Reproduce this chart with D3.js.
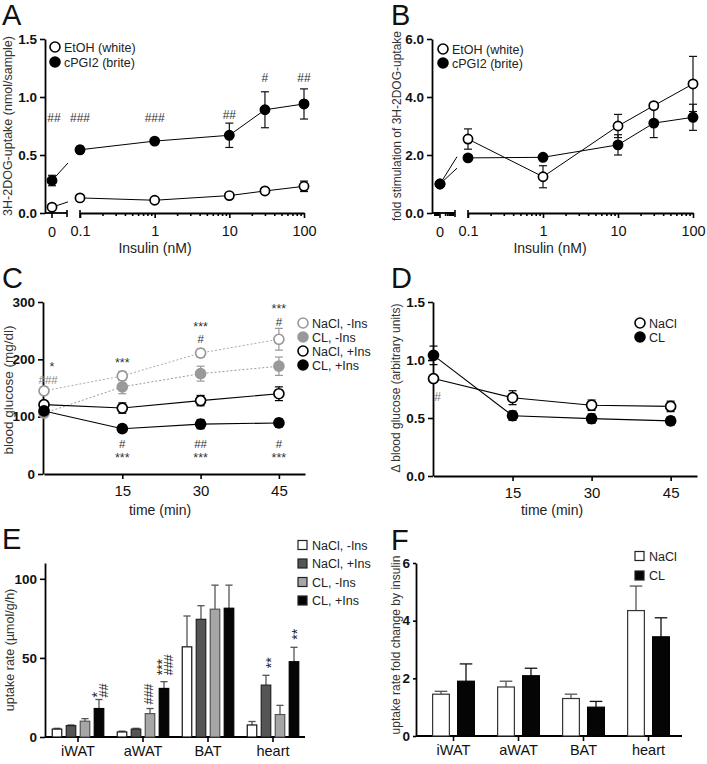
<!DOCTYPE html>
<html><head><meta charset="utf-8">
<script src="https://cdn.jsdelivr.net/npm/d3@7"></script>
<style>body{margin:0;background:#fff} svg text{font-family:"Liberation Sans",Arial,Helvetica,sans-serif}</style>
</head><body><svg id="c" width="707" height="764"></svg>
<script>
// ================= DATA =================
// Panels A & B
const doses = [0, 0.1, 1, 10, 30, 100];
const doseTickValues = [0.1, 1, 10, 100];
const doseTickLabels = ["0.1", "1", "10", "100"];
const minorDoseTicks = [0.2,0.3,0.4,0.5,0.6,0.7,0.8,0.9,2,3,4,5,6,7,8,9,20,30,40,50,60,70,80,90];
const seriesAB = ["EtOH (white)", "cPGI2 (brite)"];

const etohA = [0.05, 0.13, 0.11, 0.15, 0.19, 0.23];
const etohAErr = [0.01, 0.015, 0.01, 0.015, 0.02, 0.045];
const pgiA = [0.28, 0.545, 0.62, 0.67, 0.89, 0.94];
const pgiAErr = [0.045, 0.03, 0.01, 0.105, 0.155, 0.13];
const sigA = ["##", "###", "###", "##", "#", "##"];
const sigAY = [0.82, 0.82, 0.82, 0.845, 1.17, 1.17];
const yTicksA = [0, 0.5, 1.0, 1.5];

const etohB = [1.0, 2.55, 1.25, 3.0, 3.7, 4.45];
const etohBErr = [0.05, 0.35, 0.38, 0.4, 0.1, 0.95];
const pgiB = [1.0, 1.9, 1.92, 2.35, 3.1, 3.3];
const pgiBErr = [0.05, 0.05, 0.05, 0.35, 0.5, 0.45];
const yTicksB = [0, 2, 4, 6];

// Panel C
const timeC = [0, 15, 30, 45];
const seriesC = ["NaCl, -Ins", "CL, -Ins", "NaCl, +Ins", "CL, +Ins"];
const naclNoInsC = [145, 171, 211, 235];
const naclNoInsCErr = [6, 8, 7, 19];
const clNoInsC = [106, 152, 175, 188];
const clNoInsCErr = [6, 12, 13, 16];
const naclInsC = [121, 115, 128, 140];
const naclInsCErr = [5, 9, 9, 12];
const clInsC = [110, 79, 87, 89];
const clInsCErr = [5, 6, 8, 7];
const yTicksC = [0, 100, 200, 300];
const sigCTime = [1.5, 0.8, 15, 30, 30, 45, 45, 15, 15, 30, 30, 45, 45];
const sigCText = ["*", "###", "***", "***", "#", "***", "#", "#", "***", "##", "***", "#", "***"];
const sigCVal = [192, 164, 199, 262, 235, 293, 265, 53, 33, 53, 33, 53, 33];
const sigCGray = [false, true, false, false, false, false, false, false, false, false, false, false, false];

// Panel D
const timeD = [0, 15, 30, 45];
const seriesD = ["NaCl", "CL"];
const naclD = [0.84, 0.675, 0.61, 0.60];
const naclDErr = [0.02, 0.06, 0.045, 0.045];
const clD = [1.04, 0.52, 0.495, 0.475];
const clDErr = [0.08, 0.04, 0.04, 0.035];
const yTicksD = [0, 0.5, 1.0, 1.5];
const sigDTime = [0.8];
const sigDText = ["#"];
const sigDVal = [0.68];

// Panel E
const tissues = ["iWAT", "aWAT", "BAT", "heart"];
const seriesE = ["NaCl, -Ins", "NaCl, +Ins", "CL, -Ins", "CL, +Ins"];
const naclNoInsE = [5, 3.2, 57, 7.6];
const naclNoInsEErr = [0.5, 0.5, 19.5, 2.2];
const naclInsE = [7.2, 5, 74.4, 32.8];
const naclInsEErr = [0.4, 0.5, 8.6, 6.2];
const clNoInsE = [10, 14.8, 80.8, 14.2];
const clNoInsEErr = [1.6, 3.2, 15.2, 5.8];
const clInsE = [18, 30.7, 81.4, 47.6];
const clInsEErr = [5.7, 4.3, 14.6, 9.1];
const yTicksE = [0, 50, 100];
const sigETissue = ["iWAT", "iWAT", "aWAT", "aWAT", "aWAT", "heart", "heart"];
const sigESeries = [3, 3, 2, 3, 3, 1, 3];
const sigEText = ["*", "##", "###", "***", "###", "**", "**"];
const sigEVal = [25, 25, 20.5, 39, 39, 43.5, 61.5];

// Panel F
const seriesF = ["NaCl", "CL"];
const naclF = [1.45, 1.7, 1.3, 4.35];
const naclFErr = [0.1, 0.2, 0.15, 0.85];
const clF = [1.9, 2.09, 1.0, 3.44];
const clFErr = [0.6, 0.26, 0.2, 0.66];
const yTicksF = [0, 2, 4, 6];

// ================= DRAWING =================
const FONT = '"Liberation Sans", Arial, Helvetica, sans-serif';
const svg = d3.select('#c');
svg.append('rect').attr('width', 707).attr('height', 764).attr('fill', '#fff');

function letter(t, x, y) {
  svg.append('text').attr('x', x).attr('y', y).attr('font-size', 29).attr('fill', '#111').text(t);
}
function yTitle(t, x, y, fs) {
  svg.append('text').attr('transform', `translate(${x},${y}) rotate(-90)`)
    .attr('text-anchor', 'middle').attr('font-size', fs).attr('fill', '#333').text(t);
}
function xTitle(t, x, y) {
  svg.append('text').attr('x', x).attr('y', y).attr('text-anchor', 'middle')
    .attr('font-size', 14).attr('fill', '#222').text(t);
}
function styleAxis(a) {
  a.select('.domain').attr('stroke', '#000').attr('stroke-width', 1.8);
  a.selectAll('.tick line').attr('stroke', '#000').attr('stroke-width', 1.6);
  a.selectAll('.tick text').attr('font-family', FONT).attr('fill', '#111');
}
function yAxis(g, scale, ticks, fmt, x, size = 5) {
  const a = g.append('g').attr('transform', `translate(${x},0)`)
    .call(d3.axisLeft(scale).tickValues(ticks).tickFormat(fmt).tickSize(size).tickSizeOuter(0).tickPadding(3));
  styleAxis(a);
  a.selectAll('.tick text').attr('font-size', 13.5).attr('font-weight', 'bold');
  return a;
}
function errBar(g, cx, yLo, yHi, w, color, sw, lower = true) {
  g.append('line').attr('x1', cx).attr('x2', cx).attr('y1', yLo).attr('y2', yHi)
    .attr('stroke', color).attr('stroke-width', sw);
  g.append('line').attr('x1', cx - w / 2).attr('x2', cx + w / 2).attr('y1', yHi).attr('y2', yHi)
    .attr('stroke', color).attr('stroke-width', sw);
  if (lower) g.append('line').attr('x1', cx - w / 2).attr('x2', cx + w / 2).attr('y1', yLo).attr('y2', yLo)
    .attr('stroke', color).attr('stroke-width', sw);
}
function sigText(g, t, x, y, color, fs) {
  const off = t.includes('*') ? 0.55 : 0.36;
  g.append('text').attr('x', x).attr('y', y + off * fs).attr('text-anchor', 'middle')
    .attr('font-size', fs).attr('fill', color).text(t);
}
function circleLegend(g, items, x, y0, dy, fs) {
  items.forEach((it, i) => {
    g.append('circle').attr('cx', x).attr('cy', y0 + i * dy).attr('r', 5)
      .attr('fill', it.fill).attr('stroke', it.stroke).attr('stroke-width', 1.6);
    g.append('text').attr('x', x + 9).attr('y', y0 + i * dy + fs * 0.36).attr('font-size', fs)
      .attr('fill', '#222').text(it.name);
  });
}
function squareLegend(g, items, x, y0, dy, fs) {
  items.forEach((it, i) => {
    g.append('rect').attr('x', x).attr('y', y0 + i * dy - 4.5).attr('width', 9).attr('height', 9)
      .attr('fill', it.fill).attr('stroke', '#222').attr('stroke-width', 1.2);
    g.append('text').attr('x', x + 14).attr('y', y0 + i * dy + fs * 0.36).attr('font-size', fs)
      .attr('fill', '#222').text(it.name);
  });
}

// ---------- Panels A & B (dose response with broken axis) ----------
function dosePanel(cfg) {
  const { y, xl, zeroX, axisX, segEnd, lineEnd, dense } = cfg;
  const X = d => d === 0 ? zeroX : xl(d);
  const g = svg.append('g');
  const y0 = y(0);
  yAxis(g, y, cfg.yTicks, cfg.yFmt, axisX);
  g.append('line').attr('x1', axisX).attr('x2', segEnd).attr('y1', y0).attr('y2', y0)
    .attr('stroke', '#000').attr('stroke-width', 1.8);
  g.append('line').attr('x1', zeroX).attr('x2', zeroX).attr('y1', y0).attr('y2', y0 + 5)
    .attr('stroke', '#000').attr('stroke-width', 1.6);
  g.append('line').attr('x1', segEnd).attr('x2', segEnd).attr('y1', y0 - 3).attr('y2', y0 + 4)
    .attr('stroke', '#000').attr('stroke-width', 1.6);
  if (dense) {
    const zl = d3.scaleLog().domain([1, 10]).range([zeroX + 2, segEnd - 1]);
    const zl2 = d3.scaleLog().domain([1, 10]).range([axisX + 1, zeroX - 1]);
    [2, 3, 4, 5, 6, 7, 8, 9].forEach(v => {
      [zl(v), zl2(v)].forEach(px => g.append('line').attr('x1', px).attr('x2', px)
        .attr('y1', y0 - 1).attr('y2', y0 + 3).attr('stroke', '#000').attr('stroke-width', 1.6));
    });
  }
  g.append('text').attr('x', zeroX).attr('y', y0 + 24).attr('text-anchor', 'middle')
    .attr('font-size', 14.5).attr('fill', '#111').text('0');
  const ax = g.append('g').attr('transform', `translate(0,${y0})`)
    .call(d3.axisBottom(xl).tickValues(doseTickValues).tickFormat((d, i) => doseTickLabels[i])
      .tickSize(5).tickSizeOuter(0).tickPadding(8));
  styleAxis(ax);
  ax.selectAll('.tick text').attr('font-size', 14.5);
  const mx = g.append('g').attr('transform', `translate(0,${y0})`)
    .call(d3.axisBottom(xl).tickValues(minorDoseTicks).tickFormat('').tickSize(3).tickSizeOuter(0));
  styleAxis(mx);
  mx.select('.domain').remove();
  g.append('line').attr('x1', xl(0.1)).attr('x2', xl(0.1)).attr('y1', y0 - 3).attr('y2', y0 + 5)
    .attr('stroke', '#000').attr('stroke-width', 1.6);

  const lines = g.append('g'), bars = g.append('g'), marks = g.append('g');
  cfg.series.forEach(s => {
    const xa = X(0), ya = y(s.vals[0]), xb = X(doses[1]), yb = y(s.vals[1]);
    const t = (lineEnd - xa) / (xb - xa);
    lines.append('line').attr('x1', xa).attr('y1', ya).attr('x2', lineEnd).attr('y2', ya + t * (yb - ya))
      .attr('stroke', '#000').attr('stroke-width', 1);
    lines.append('path').datum(doses.slice(1).map((d, i) => [X(d), y(s.vals[i + 1])]))
      .attr('d', d3.line()).attr('fill', 'none').attr('stroke', '#000').attr('stroke-width', 1);
    doses.forEach((d, i) => {
      errBar(bars, X(d), y(s.vals[i] - s.errs[i]), y(s.vals[i] + s.errs[i]), 8, '#111', 1.2);
      marks.append('circle').attr('cx', X(d)).attr('cy', y(s.vals[i])).attr('r', 4.6)
        .attr('fill', s.fill).attr('stroke', '#000').attr('stroke-width', 1.7);
    });
  });
  return { g, X };
}

// Panel A
const yA = d3.scaleLinear().domain([0, 1.5]).range([213, 39]);
const xlA = d3.scaleLog().domain([0.1, 100]).range([80, 304]);
const pA = dosePanel({
  y: yA, xl: xlA, zeroX: 52, axisX: 45, segEnd: 67, lineEnd: 68,
  yTicks: yTicksA, yFmt: d3.format('.1f'),
  series: [{ vals: etohA, errs: etohAErr, fill: '#fff' }, { vals: pgiA, errs: pgiAErr, fill: '#000' }]
});
doses.forEach((d, i) => sigText(pA.g, sigA[i], pA.X(d) + (i === 0 ? 2 : 0), yA(sigAY[i]), '#333', 12));
circleLegend(pA.g, [{ name: seriesAB[0], fill: '#fff', stroke: '#000' }, { name: seriesAB[1], fill: '#000', stroke: '#000' }], 55, 47, 15, 12.5);
letter('A', 2, 25);
yTitle('3H-2DOG-uptake (nmol/sample)', 12, 126, 12.5);
xTitle('Insulin (nM)', 155, 253);

// Panel B
const yB = d3.scaleLinear().domain([0, 6]).range([213, 39]);
const xlB = d3.scaleLog().domain([0.1, 100]).range([468, 693]);
const pB = dosePanel({
  y: yB, xl: xlB, zeroX: 440, axisX: 432, segEnd: 455, lineEnd: 457, dense: true,
  yTicks: yTicksB, yFmt: d3.format('.1f'),
  series: [{ vals: etohB, errs: etohBErr, fill: '#fff' }, { vals: pgiB, errs: pgiBErr, fill: '#000' }]
});
circleLegend(pB.g, [{ name: seriesAB[0], fill: '#fff', stroke: '#000' }, { name: seriesAB[1], fill: '#000', stroke: '#000' }], 443, 49, 14, 12.5);
letter('B', 391, 25);
yTitle('fold stimulation of 3H-2DOG-uptake', 401, 126, 12);
xTitle('Insulin (nM)', 550, 253);

// ---------- Time panels C & D ----------
function timePanel(cfg) {
  const { x, y, axisX } = cfg;
  const g = svg.append('g');
  yAxis(g, y, cfg.yTicks, cfg.yFmt, axisX);
  const ax = g.append('g').attr('transform', `translate(0,${y(0)})`)
    .call(d3.axisBottom(x).tickValues([15, 30, 45]).tickSize(5).tickSizeOuter(0).tickPadding(6));
  styleAxis(ax);
  ax.selectAll('.tick text').attr('font-size', 15);
  const lines = g.append('g'), bars = g.append('g'), marks = g.append('g');
  cfg.series.forEach(s => {
    lines.append('path').datum(cfg.times.map((t, i) => [x(t), y(s.vals[i])]))
      .attr('d', d3.line()).attr('fill', 'none').attr('stroke', s.line)
      .attr('stroke-width', s.dash ? 1 : 1.1).attr('stroke-dasharray', s.dash || null);
    cfg.times.forEach((t, i) => {
      errBar(bars, x(t), y(s.vals[i] - s.errs[i]), y(s.vals[i] + s.errs[i]), 8, s.stroke, 1.2);
      marks.append('circle').attr('cx', x(t)).attr('cy', y(s.vals[i])).attr('r', 5)
        .attr('fill', s.fill).attr('stroke', s.stroke).attr('stroke-width', 1.7);
    });
  });
  return g;
}

// Panel C
const xC = d3.scaleLinear().domain([0, 50]).range([44, 305]);
const yC = d3.scaleLinear().domain([0, 300]).range([474, 302]);
const cStyles = [
  { line: '#aaa', dash: '2,2', fill: '#fff', stroke: '#999' },
  { line: '#999', dash: '2,2', fill: '#999', stroke: '#999' },
  { line: '#000', dash: null, fill: '#fff', stroke: '#000' },
  { line: '#000', dash: null, fill: '#000', stroke: '#000' }
];
const cVals = [naclNoInsC, clNoInsC, naclInsC, clInsC];
const cErrs = [naclNoInsCErr, clNoInsCErr, naclInsCErr, clInsCErr];
const gC = timePanel({
  x: xC, y: yC, axisX: 43, times: timeC, yTicks: yTicksC, yFmt: d3.format('d'),
  series: cVals.map((v, i) => Object.assign({ vals: v, errs: cErrs[i] }, cStyles[i]))
});
sigCText.forEach((t, i) => sigText(gC, t, xC(sigCTime[i]), yC(sigCVal[i]), sigCGray[i] ? '#888' : '#333', t.includes('*') ? 12.5 : 11.5));
circleLegend(gC, seriesC.map((n, i) => ({ name: n, fill: cStyles[i].fill, stroke: cStyles[i].stroke })), 303, 323, 14, 12.5);
letter('C', 2, 288);
yTitle('blood glucose (mg/dl)', 13, 390, 13.5);
xTitle('time (min)', 160, 515);

// Panel D
const xD = d3.scaleLinear().domain([0, 50]).range([433.5, 697]);
const yD = d3.scaleLinear().domain([0, 1.5]).range([476, 302]);
const dStyles = [
  { line: '#000', dash: null, fill: '#fff', stroke: '#000' },
  { line: '#000', dash: null, fill: '#000', stroke: '#000' }
];
const gD = timePanel({
  x: xD, y: yD, axisX: 433, times: timeD, yTicks: yTicksD, yFmt: d3.format('.1f'),
  series: [{ vals: naclD, errs: naclDErr }, { vals: clD, errs: clDErr }].map((s, i) => Object.assign(s, dStyles[i]))
});
sigDText.forEach((t, i) => sigText(gD, t, xD(sigDTime[i]), yD(sigDVal[i]), '#777', 12));
circleLegend(gD, seriesD.map((n, i) => ({ name: n, fill: dStyles[i].fill, stroke: '#000' })), 640, 323, 14, 12.5);
letter('D', 391, 288);
yTitle('\u0394 blood glucose (arbitrary units)', 400, 388, 12);
xTitle('time (min)', 552, 515);

// ---------- Bar panels E & F ----------
function barPanel(cfg) {
  const { x, y, axisX, axisEnd, groups, innerRange, pad } = cfg;
  const g = svg.append('g');
  yAxis(g, y, cfg.yTicks, d3.format('d'), axisX, cfg.ytick || 5);
  const ax = g.append('g').attr('transform', `translate(0,${y(0)})`)
    .call(d3.axisBottom(x).tickSize(5).tickSizeOuter(0).tickPadding(4));
  styleAxis(ax);
  ax.select('.domain').remove();
  ax.selectAll('.tick text').attr('font-size', 14.5);
  g.append('line').attr('x1', axisX).attr('x2', axisEnd).attr('y1', y(0)).attr('y2', y(0))
    .attr('stroke', '#000').attr('stroke-width', 1.8);
  const inner = d3.scaleBand().domain(d3.range(groups.length)).range(innerRange)
    .paddingInner(pad).paddingOuter(pad / 2);
  const bars = g.append('g'), errs = g.append('g');
  groups.forEach((s, si) => {
    x.domain().forEach((c, ci) => {
      const bx = x(c) + inner(si);
      errBar(errs, bx + inner.bandwidth() / 2, y(s.vals[ci]), y(s.vals[ci] + s.errs[ci]), inner.bandwidth() * 0.75, s.err, 1.3, false);
      bars.append('rect').attr('x', bx).attr('y', y(s.vals[ci])).attr('width', inner.bandwidth())
        .attr('height', y(0) - y(s.vals[ci])).attr('fill', s.fill).attr('stroke', s.stroke).attr('stroke-width', 1.2);
    });
  });
  g.node().appendChild(bars.node());
  g.node().appendChild(ax.node());
  return { g, inner };
}

// Panel E
const xE = d3.scaleBand().domain(tissues).range([45.5, 305.5]);
const yE = d3.scaleLinear().domain([0, 110]).range([737, 563]);
const eStyles = [
  { fill: '#fff', stroke: '#111', err: '#555' },
  { fill: '#555', stroke: '#222', err: '#555' },
  { fill: '#a6a6a6', stroke: '#555', err: '#555' },
  { fill: '#050505', stroke: '#000', err: '#555' }
];
const eVals = [naclNoInsE, naclInsE, clNoInsE, clInsE];
const eErrs = [naclNoInsEErr, naclInsEErr, clNoInsEErr, clInsEErr];
const pE = barPanel({
  x: xE, y: yE, axisX: 45, axisEnd: 305, yTicks: yTicksE, innerRange: [4.5, 60.5], pad: 0.32,
  groups: eVals.map((v, i) => Object.assign({ vals: v, errs: eErrs[i] }, eStyles[i]))
});
const eSigShift = [-5, 4, -2, -5, 4, 2, 0];
sigEText.forEach((t, i) => {
  const cx = xE(sigETissue[i]) + pE.inner(sigESeries[i]) + pE.inner.bandwidth() / 2 + eSigShift[i];
  const fs = t.includes('*') ? 14 : 12.5;
  const bx = cx + (t.includes('*') ? 0.55 : 0.36) * fs;
  pE.g.append('text').attr('transform', `translate(${bx},${yE(sigEVal[i])}) rotate(-90)`)
    .attr('font-size', fs).attr('fill', '#222').text(t);
});
squareLegend(pE.g, seriesE.map((n, i) => ({ name: n, fill: eStyles[i].fill })), 298, 545, 18.5, 12.5);
letter('E', 2, 549);
yTitle('uptake rate (\u00b5mol/g/h)', 14, 650, 12.5);

// Panel F
const xF = d3.scaleBand().domain(tissues).range([421, 681]);
const yF = d3.scaleLinear().domain([0, 6]).range([736, 563]);
const fStyles = [
  { fill: '#fff', stroke: '#333', err: '#555' },
  { fill: '#050505', stroke: '#000', err: '#111' }
];
const pF = barPanel({
  x: xF, y: yF, axisX: 416, axisEnd: 682, yTicks: yTicksF, innerRange: [7.5, 57.5], pad: 0.33, ytick: 3,
  groups: [{ vals: naclF, errs: naclFErr }, { vals: clF, errs: clFErr }].map((s, i) => Object.assign(s, fStyles[i]))
});
squareLegend(pF.g, seriesF.map((n, i) => ({ name: n, fill: fStyles[i].fill })), 635, 556, 19.5, 12.5);
letter('F', 391, 550);
yTitle('uptake rate fold change by insulin', 400, 645, 12);
</script></body></html>
